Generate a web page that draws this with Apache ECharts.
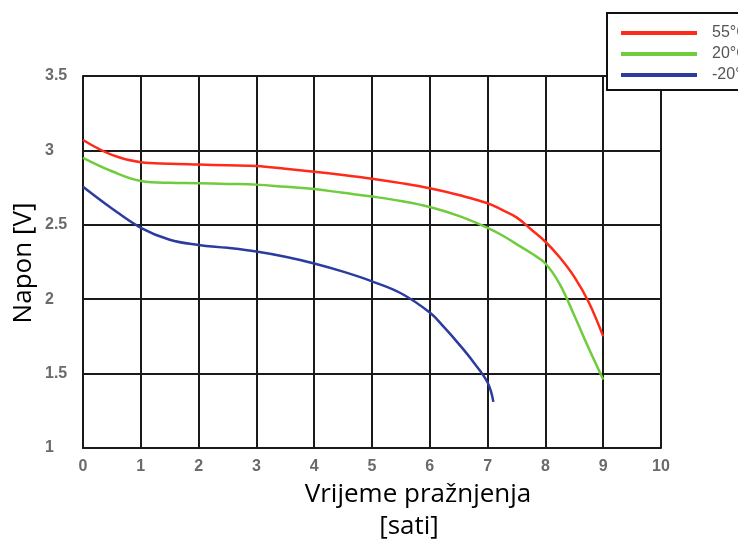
<!DOCTYPE html>
<html>
<head>
<meta charset="utf-8">
<script src="https://cdn.jsdelivr.net/npm/echarts@6/dist/echarts.min.js"></script>
<style>html,body{margin:0;padding:0;background:#fff;}#c{width:738px;height:543px;}</style>
</head>
<body>
<div id="c"></div>
<script>
const seriesNames = ['55°C', '20°C', '-20°C'];
const hot = [[0,3.07],[0.5,2.97],[1,2.92],[1.5,2.91],[2,2.905],[2.5,2.9],[3,2.895],[3.5,2.877],[4,2.857],[4.5,2.835],[5,2.81],[5.5,2.78],[6,2.745],[6.5,2.70],[7,2.645],[7.25,2.60],[7.5,2.55],[7.75,2.47],[8,2.386],[8.25,2.28],[8.5,2.15],[8.75,1.98],[9,1.75]];
const room = [[0,2.95],[0.5,2.86],[1,2.795],[1.5,2.782],[2,2.78],[2.5,2.775],[3,2.77],[3.5,2.755],[4,2.74],[4.5,2.715],[5,2.69],[5.5,2.66],[6,2.62],[6.5,2.56],[7,2.48],[7.25,2.43],[7.5,2.37],[7.75,2.31],[8,2.24],[8.25,2.10],[8.5,1.89],[8.75,1.67],[9,1.46]];
const cold = [[0,2.756],[0.5,2.61],[1,2.48],[1.5,2.40],[2,2.365],[2.5,2.345],[3,2.32],[3.5,2.285],[4,2.24],[4.5,2.185],[5,2.12],[5.5,2.04],[6,1.91],[6.25,1.81],[6.5,1.70],[6.75,1.58],[7,1.44],[7.1,1.31]];
const xTicks = [0,1,2,3,4,5,6,7,8,9,10];
const yTicks = [1,1.5,2,2.5,3,3.5];
const colors = ['#ff2a1a', '#6fcc3c', '#2b3c9e'];

const chart = echarts.init(document.getElementById('c'));
const gridLine = {color:'#1a1a1a', width:2};
const tickFont = {color:'#6a6a6a', fontSize:16, fontWeight:'bold', fontFamily:'Liberation Sans'};
const mk = (i, d) => ({name:seriesNames[i], type:'line', data:d, smooth:0.4, showSymbol:false, symbol:'none',
  lineStyle:{color:colors[i], width:2.5}, itemStyle:{color:colors[i]}});
chart.setOption({
  animation:false,
  backgroundColor:'#fff',
  grid:{left:83, right:77, top:76, bottom:95},
  xAxis:{type:'value', min:xTicks[0], max:xTicks[xTicks.length-1], interval:1,
    axisLine:{show:true, onZero:false, lineStyle:gridLine}, axisTick:{show:false},
    splitLine:{show:true, lineStyle:gridLine},
    axisLabel:Object.assign({margin:11}, tickFont)},
  yAxis:{type:'value', min:yTicks[0], max:yTicks[yTicks.length-1], interval:0.5,
    axisLine:{show:true, lineStyle:gridLine}, axisTick:{show:false},
    splitLine:{show:true, lineStyle:gridLine},
    axisLabel:Object.assign({margin:38, align:'left'}, tickFont)},
  legend:{orient:'vertical', left:607, top:13, padding:[12,40,7,14],
    borderColor:'#111', borderWidth:2, backgroundColor:'#fff',
    icon:'rect', itemWidth:76, itemHeight:4, itemGap:5,
    textStyle:{color:'#555', fontSize:16, fontFamily:'Liberation Sans', padding:[0,0,0,10]},
    data:seriesNames},
  series:[mk(0, hot), mk(1, room), mk(2, cold)],
  graphic:[
    {type:'text', x:418, y:495, style:{text:'Vrijeme pražnjenja', fill:'#000', font:'26px "Open Sans"', textAlign:'center', textVerticalAlign:'middle'}},
    {type:'text', x:409, y:527, style:{text:'[sati]', fill:'#000', font:'26px "Open Sans"', textAlign:'center', textVerticalAlign:'middle'}},
    {type:'text', rotation:Math.PI/2, x:24, y:263, style:{text:'Napon [V]', fill:'#000', font:'26px "Open Sans"', textAlign:'center', textVerticalAlign:'middle'}}
  ]
});
</script>
</body>
</html>
